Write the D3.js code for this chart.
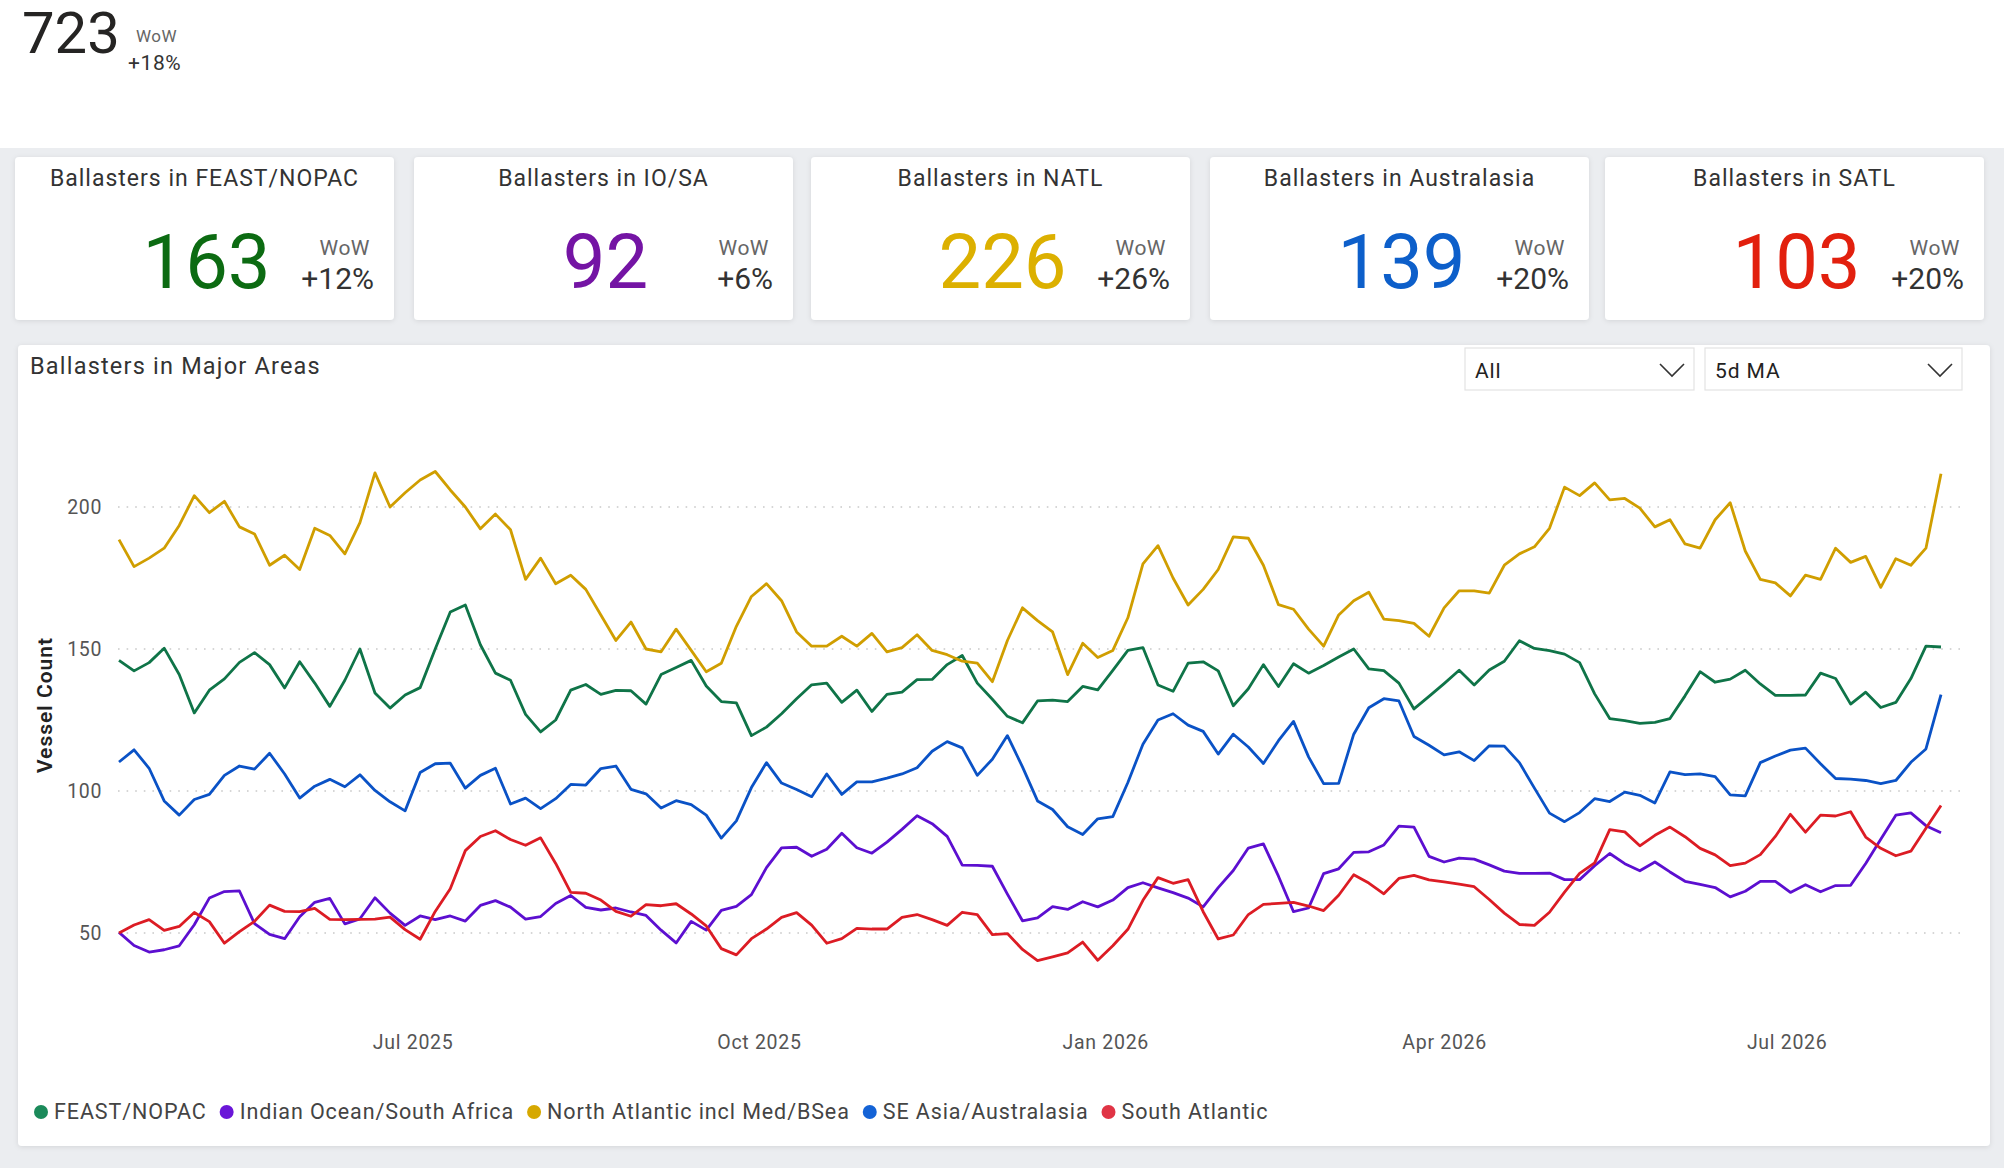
<!DOCTYPE html>
<html>
<head>
<meta charset="utf-8">
<script src="https://cdn.jsdelivr.net/npm/d3@7"></script>
<style>
  body { margin: 0; background: #ebedf0; font-family: Roboto, "Noto Sans", sans-serif; }
  svg { display: block; }
</style>
</head>
<body>
<svg id="page" width="2004" height="1168"></svg>
<script>
// ---- data ----
var startDate = new Date(2025, 3, 14);   // first point of every series
var stepDays = 4;                        // one point every 4 days

var feast = [146, 142.3, 145.2, 150.3, 141, 127.5, 135.5, 139.5, 145.3, 148.7, 144.5, 136.3,
  145.5, 138, 129.8, 139, 150, 134.5, 129.2, 133.8, 136.4, 150, 163, 165.5,
  151.5, 141.5, 139, 127, 120.8, 125, 135.5, 137.5, 134, 135.4, 135.3, 130.6,
  141, 143.5, 146, 137, 131.5, 131, 119.5, 122.5, 127.2, 132.5, 137.4, 138,
  131.2, 135.5, 128, 134, 134.8, 139.2, 139.3, 144.5, 147.7, 138, 132.3, 126.3,
  124, 131.7, 132, 131.5, 136.8, 135.6, 142.5, 149.5, 150.5, 137.3, 135.1, 145,
  145.5, 142.3, 130, 136, 144.5, 136.8, 144.8, 141.5, 144.2, 147.2, 150, 143,
  142.4, 138, 128.9, 133.3, 137.8, 142.5, 137.3, 142.6, 145.7, 152.9, 150.2, 149.4,
  148.2, 145.2, 134.2, 125.5, 124.8, 123.8, 124.2, 125.5, 133.5, 142, 138.3, 139.4,
  142.5, 137.7, 133.7, 133.7, 133.8, 141.5, 139.6, 130.6, 134.8, 129.4, 131.2, 139.6,
  151, 150.7];

var indianOcean = [50.2, 45.6, 43.3, 44.1, 45.5, 52.9, 62.3, 64.6, 64.8, 53.3, 49.5, 48,
  55.7, 60.8, 62.2, 53.2, 55, 62.4, 57, 52.7, 56, 54.7, 56, 54.2,
  59.7, 61.4, 59.1, 54.9, 55.8, 60.4, 63.2, 59, 58.1, 58.8, 57.4, 56.2,
  51, 46.5, 54.1, 51, 58, 59.4, 63.5, 73, 80, 80.2, 77, 79.5,
  85.1, 80, 78.1, 82, 86.5, 91.3, 88.5, 84, 73.9, 73.8, 73.5, 63.7,
  54.3, 55.3, 59.3, 58.3, 61, 59.2, 61.6, 66, 67.7, 65.9, 64.2, 62.3,
  59.2, 66, 72, 79.9, 81.4, 70, 57.5, 58.8, 70.9, 72.6, 78.4, 78.6,
  81, 87.6, 87.3, 77, 75, 76.4, 76, 74, 71.8, 71, 71, 71.1,
  68.8, 68.8, 73.7, 78, 74.4, 71.9, 75, 71.5, 68.2, 67.1, 66, 62.7,
  64.7, 68.2, 68.2, 64.3, 67, 64.5, 66.7, 66.8, 74.5, 83, 91.5, 92.3,
  87.8, 85.3];

var northAtlantic = [188.5, 179, 182, 185.5, 193.5, 204, 198, 202, 193, 190.5, 179.5, 183,
  178, 192.5, 190, 183.5, 194.5, 212, 200, 205, 209.5, 212.5, 206, 200,
  192.3, 197.5, 192, 174.5, 182, 173, 176, 171, 162, 153, 159.5, 150,
  149, 157, 149.5, 142, 145, 158, 168.5, 173, 167, 156, 151, 151,
  154.5, 151, 155.5, 149, 150.5, 155, 149.5, 148, 145.7, 145, 138.5, 153,
  164.5, 160, 156, 141, 152, 147, 149.5, 161, 180, 186.4, 175, 165.5,
  171, 178, 189.5, 189, 179.5, 165.6, 164, 157, 151, 162, 167, 170,
  160.5, 160, 159, 154.5, 164.5, 170.5, 170.5, 169.7, 179.5, 183.5, 186, 192.5,
  207, 204, 208.5, 202.5, 203, 199.6, 193, 195.5, 187, 185.5, 195.5, 201.5,
  184.5, 174.5, 173.3, 168.7, 176, 174.5, 185.5, 180.5, 182.6, 171.7, 181.8, 179.5,
  185.5, 211.7];

var seAsia = [110.2, 114.5, 108, 96.5, 91.5, 97, 98.8, 105.5, 108.8, 107.7, 113.3, 106,
  97.5, 101.7, 104.1, 101.5, 105.7, 100.2, 96.2, 93, 106.5, 109.6, 109.8, 101,
  105.5, 108, 95.4, 97.5, 93.8, 97.3, 102.3, 102.1, 107.9, 108.8, 100.6, 99,
  94, 96.6, 95.2, 91.5, 83.4, 89.5, 101.2, 110, 102.8, 100.5, 98, 106,
  98.8, 103.2, 103.2, 104.5, 106, 108.2, 114, 117.4, 115.2, 105.5, 111.2, 119.5,
  108.5, 96.5, 93.5, 87.4, 84.7, 90.2, 91, 103, 116.5, 125, 127.2, 123.2,
  121, 113, 120, 115.5, 109.7, 117.7, 124.5, 112, 102.6, 102.7, 120, 129.3,
  132.5, 131.7, 119.2, 116.1, 112.7, 113.8, 110.7, 115.9, 115.8, 110, 101, 92.2,
  89.2, 92.4, 97.3, 96.3, 99.6, 98.5, 95.8, 106.7, 105.8, 106, 105.1, 98.6,
  98.3, 110, 112.3, 114.4, 115.1, 109.6, 104.4, 104.2, 103.7, 102.6, 103.7, 110.1,
  114.8, 133.9];

var southAtlantic = [50, 52.8, 54.7, 50.9, 52.3, 57.2, 54, 46.4, 50.5, 54.1, 59.8, 57.6,
  57.5, 58.7, 54.8, 54.7, 54.8, 54.9, 55.6, 51.2, 47.8, 57.6, 65.6, 79,
  84, 86, 82.9, 80.9, 83.5, 74.5, 64.3, 64, 61.6, 57.6, 55.9, 60,
  59.6, 60.3, 56.7, 52.5, 44.5, 42.3, 48, 51.4, 55.5, 57.2, 52.8, 46.4,
  48, 51.6, 51.4, 51.4, 55.5, 56.5, 54.7, 52.7, 57.3, 56.5, 49.4, 49.8,
  44.2, 40.3, 41.6, 43, 46.8, 40.4, 45.5, 51.3, 61.5, 69.5, 67.5, 68.8,
  57.5, 47.9, 49.3, 56.5, 60.1, 60.4, 60.8, 59.5, 57.9, 63.3, 70.5, 67.6,
  63.8, 69.2, 70.3, 68.7, 68, 67.2, 66.3, 61.8, 57, 53, 52.7, 57.3,
  64.4, 71, 74.7, 86.4, 85.6, 80.7, 84.4, 87.3, 83.9, 79.8, 77.5, 73.7,
  74.6, 77.6, 84, 91.8, 85.5, 91.5, 91.2, 92.7, 83.8, 79.8, 77.2, 78.8,
  86.9, 94.9];

var seriesNames = ["FEAST/NOPAC", "Indian Ocean/South Africa", "North Atlantic incl Med/BSea", "SE Asia/Australasia", "South Atlantic"];
var seriesValues = [feast, indianOcean, northAtlantic, seAsia, southAtlantic];
var lineColors = ["#0f7448", "#5c0fd0", "#d09e00", "#0a52c6", "#dc1c24"];
var dotColors = ["#1b8a5a", "#6a16d8", "#d6a800", "#1463d6", "#e03445"];

var kpiTitles = ["Ballasters in FEAST/NOPAC", "Ballasters in IO/SA", "Ballasters in NATL", "Ballasters in Australasia", "Ballasters in SATL"];
var kpiValues = [163, 92, 226, 139, 103];
var kpiWow = ["+12%", "+6%", "+26%", "+20%", "+20%"];
var kpiColors = ["#0c6b12", "#7414a4", "#dcb000", "#0d5fca", "#e2200e"];

var totalValue = 723;
var totalWow = "+18%";

var yTicks = [50, 100, 150, 200];
var xTicks = [new Date(2025, 6, 1), new Date(2025, 9, 1), new Date(2026, 0, 1), new Date(2026, 3, 1), new Date(2026, 6, 1)];
var filterLabels = ["All", "5d MA"];

// ---- page ----
var svg = d3.select("#page");

var defs = svg.append("defs");
var shadow = defs.append("filter").attr("id", "shadow")
  .attr("x", "-5%").attr("y", "-5%").attr("width", "110%").attr("height", "115%");
shadow.append("feDropShadow")
  .attr("dx", 0).attr("dy", 1).attr("stdDeviation", 2.5)
  .attr("flood-color", "#000").attr("flood-opacity", 0.10);

svg.append("rect").attr("width", 2004).attr("height", 1168).attr("fill", "#ebedf0");
svg.append("rect").attr("width", 2004).attr("height", 148).attr("fill", "#ffffff");

// headline number
svg.append("text").attr("x", 22).attr("y", 53)
  .attr("font-size", 58).attr("fill", "#252423").text(totalValue);
svg.append("text").attr("x", 136).attr("y", 42)
  .attr("font-size", 17).attr("letter-spacing", 0.5).attr("fill", "#666").text("WoW");
svg.append("text").attr("x", 128).attr("y", 70)
  .attr("font-size", 21).attr("letter-spacing", 0.6).attr("fill", "#333").text(totalWow);

// KPI cards
var cardX = [15, 414, 811, 1210, 1605];
var cardW = 379, cardY = 157, cardH = 163;

var cards = svg.selectAll("g.card")
  .data(kpiTitles)
  .enter()
  .append("g")
  .attr("class", "card")
  .attr("transform", function(d, i) { return "translate(" + cardX[i] + "," + cardY + ")"; });

cards.append("rect")
  .attr("width", cardW).attr("height", cardH).attr("rx", 4)
  .attr("fill", "#fff").attr("filter", "url(#shadow)");

cards.append("text")
  .attr("x", cardW / 2).attr("y", 29)
  .attr("text-anchor", "middle").attr("font-size", 23).attr("letter-spacing", 1)
  .attr("fill", "#333")
  .text(function(d) { return d; });

cards.append("text")
  .attr("x", cardW / 2 + 2).attr("y", 131)
  .attr("text-anchor", "middle").attr("font-size", 76)
  .attr("fill", function(d, i) { return kpiColors[i]; })
  .text(function(d, i) { return kpiValues[i]; });

cards.append("text")
  .attr("x", cardW - 24).attr("y", 98)
  .attr("text-anchor", "end").attr("font-size", 21).attr("letter-spacing", 0.5)
  .attr("fill", "#666")
  .text("WoW");

cards.append("text")
  .attr("x", cardW - 20).attr("y", 132)
  .attr("text-anchor", "end").attr("font-size", 30).attr("fill", "#333")
  .text(function(d, i) { return kpiWow[i]; });

// chart card
svg.append("rect")
  .attr("x", 18).attr("y", 345).attr("width", 1972).attr("height", 801).attr("rx", 4)
  .attr("fill", "#fff").attr("filter", "url(#shadow)");

svg.append("text").attr("x", 30).attr("y", 374)
  .attr("font-size", 23.5).attr("letter-spacing", 1.2)
  .attr("fill", "#333").text("Ballasters in Major Areas");

// filter boxes
var boxX = [1465, 1705], boxW = [229, 257];
filterLabels.forEach(function(label, i) {
  var g = svg.append("g").attr("transform", "translate(" + boxX[i] + ",348)");
  g.append("rect").attr("width", boxW[i]).attr("height", 42)
    .attr("fill", "#fff").attr("stroke", "#e3e3e3").attr("stroke-width", 1.2);
  g.append("text").attr("x", 10).attr("y", 30)
    .attr("font-size", 21).attr("letter-spacing", 0.9).attr("fill", "#222").text(label);
  var cx = boxW[i] - 22;
  g.append("path")
    .attr("d", "M" + (cx - 12) + ",16 L" + cx + ",28 L" + (cx + 12) + ",16")
    .attr("fill", "none").attr("stroke", "#333").attr("stroke-width", 1.6);
});

// scales
var n = feast.length;
var dates = d3.range(n).map(function(i) { return d3.timeDay.offset(startDate, i * stepDays); });

var x = d3.scaleTime()
  .domain([dates[0], dates[n - 1]])
  .range([119, 1941]);

var y = d3.scaleLinear()
  .domain([50, 200])
  .range([933, 507]);

// gridlines
svg.append("g").selectAll("line")
  .data(yTicks)
  .enter()
  .append("line")
  .attr("x1", 118).attr("x2", 1960)
  .attr("y1", function(d) { return y(d); })
  .attr("y2", function(d) { return y(d); })
  .attr("stroke", "#c9c9c9").attr("stroke-width", 1.6)
  .attr("stroke-dasharray", "1.6,7");

// y axis
var yAxis = svg.append("g")
  .attr("transform", "translate(118,0)")
  .call(d3.axisLeft(y).tickValues(yTicks).tickSize(0).tickPadding(16));
yAxis.select(".domain").remove();
yAxis.selectAll("text").attr("font-size", 19.5).attr("letter-spacing", 0.6)
  .attr("fill", "#555").attr("font-family", "Roboto, sans-serif");

svg.append("text")
  .attr("transform", "translate(45,705) rotate(-90)")
  .attr("text-anchor", "middle").attr("dominant-baseline", "central")
  .attr("font-size", 21).attr("letter-spacing", 1).attr("font-weight", 600)
  .attr("fill", "#222")
  .text("Vessel Count");

// x axis
var xAxis = svg.append("g")
  .attr("transform", "translate(0,1020)")
  .call(d3.axisBottom(x).tickValues(xTicks).tickFormat(d3.timeFormat("%b %Y")).tickSize(0).tickPadding(15.5));
xAxis.select(".domain").remove();
xAxis.selectAll("text").attr("font-size", 19.5).attr("letter-spacing", 0.7)
  .attr("fill", "#555").attr("font-family", "Roboto, sans-serif");

// lines
var line = d3.line()
  .x(function(d, i) { return x(dates[i]); })
  .y(function(d) { return y(d); });

svg.append("g").selectAll("path")
  .data(seriesValues)
  .enter()
  .append("path")
  .attr("d", line)
  .attr("fill", "none")
  .attr("stroke", function(d, i) { return lineColors[i]; })
  .attr("stroke-width", 2.8)
  .attr("stroke-linejoin", "round");

// legend
var legend = svg.append("g").attr("transform", "translate(0,1112)");
var cursor = 41;
seriesNames.forEach(function(name, i) {
  legend.append("circle").attr("cx", cursor).attr("cy", 0).attr("r", 7)
    .attr("fill", dotColors[i]);
  var t = legend.append("text").attr("x", cursor + 13).attr("y", 7)
    .attr("font-size", 21.5).attr("letter-spacing", 0.9).attr("fill", "#444").text(name);
  cursor = cursor + 13 + t.node().getComputedTextLength() + 20;
});
</script>
</body>
</html>
